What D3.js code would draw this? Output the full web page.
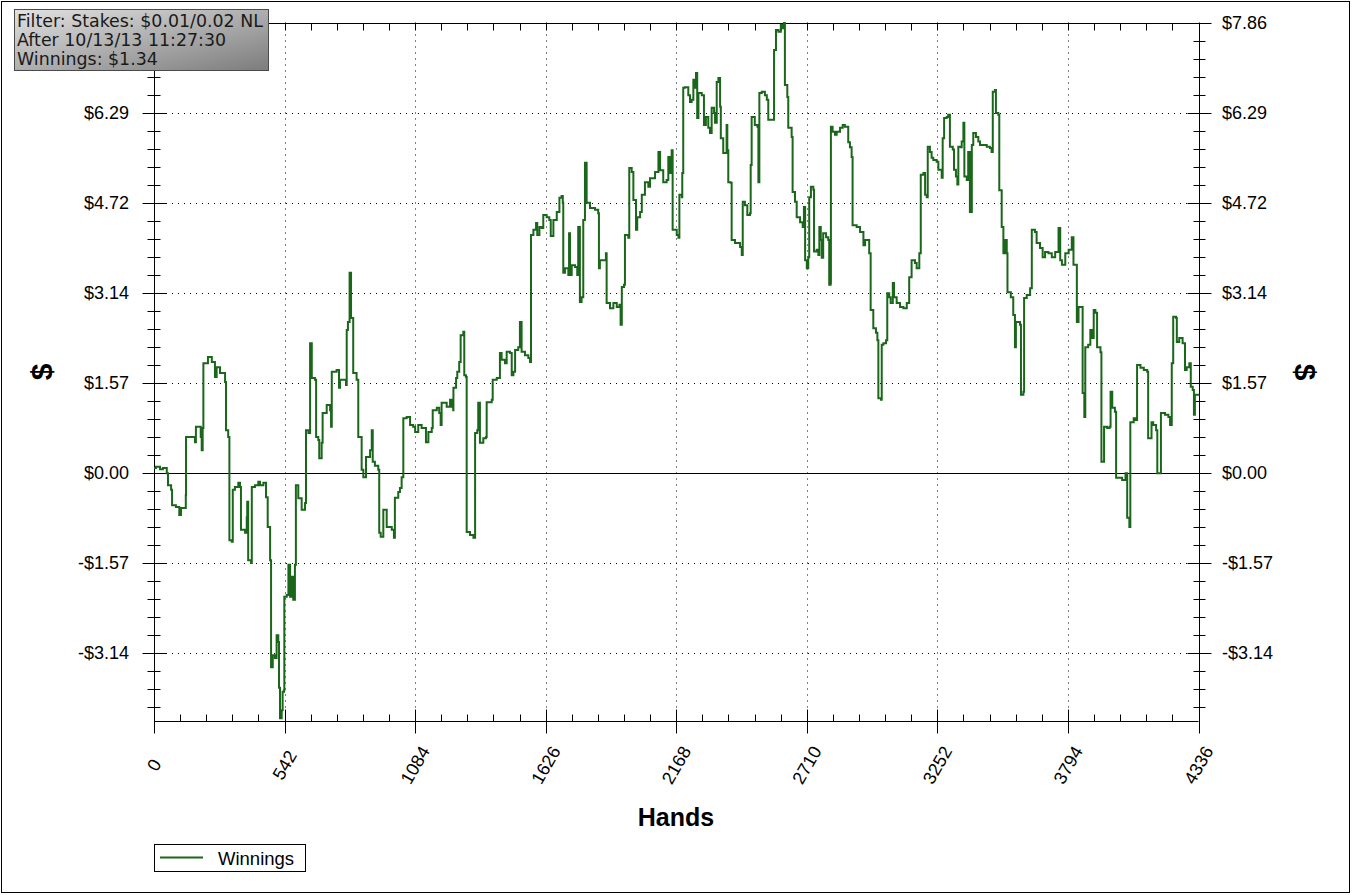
<!DOCTYPE html>
<html>
<head>
<meta charset="utf-8">
<script src="https://cdn.jsdelivr.net/npm/d3@7/dist/d3.min.js"></script>
<style>
  html, body { margin: 0; padding: 0; background: #fff; }
  svg { display: block; }
</style>
</head>
<body>
<svg id="chart" width="1352" height="895"></svg>
<script>
// ---- DATA ----
const xTickValues = [0, 542, 1084, 1626, 2168, 2710, 3252, 3794, 4336];
const xTickLabels = ["0", "542", "1084", "1626", "2168", "2710", "3252", "3794", "4336"];
const yTickValues = [7.86, 6.288, 4.716, 3.144, 1.572, 0, -1.572, -3.144];
const yTickLabels = ["$7.86", "$6.29", "$4.72", "$3.14", "$1.57", "$0.00", "-$1.57", "-$3.14"];
const yDomain = [-4.33, 7.86];
const xDomain = [0, 4336];
const filterLines = ["Filter: Stakes: $0.01/0.02 NL", "After 10/13/13 11:27:30", "Winnings: $1.34"];
const seriesName = "Winnings";

const hands = [
0,8,25,37,53,58,71,75,91,105,112,125,132,133,170,174,194,198,202,205,224,240,253,260,274,295,299,308,313,323,327,336,350,357,361,378,385,387,391,403,406,419,433,440,454,465,472,482,486,493,502,509,516,519,523,530,534,540,541,551,558,565,572,578,585,589,599,613,627,631,641,648,655,668,673,682,686,696,700,717,731,735,738,758,768,772,797,800,805,812,818,826,827,841,848,862,869,876,880,897,904,908,917,931,935,941,952,966,987,996,1000,1014,1021,1028,1035,
1049,1063,1076,1084,1097,1111,1129,1139,1153,1157,1174,1184,1190,1194,1215,1229,1236,1242,1243,1254,1259,1267,1273,1284,1288,1295,1298,1312,1326,1333,1342,1346,1353,1367,1378,1381,1402,1406,1423,1436,1443,1457,1464,1478,1485,1492,1499,1512,1519,1526,1540,1554,1561,
1565,1575,1586,1591,1600,1609,1616,1630,1641,1647,1658,1672,1683,1692,1697,1699,1706,1720,1723,1727,1734,1748,1757,1761,1768,1775,1782,1789,1796,1810,1831,1844,1847,1851,1865,1876,1879,1893,1907,1921,1932,1937,1942,1951,1955,1969,1973,1983,1990,2001,2006,2018,2025,2038,2052,2059,
2080,2094,2101,2114,2128,2135,2142,2149,2153,2170,2177,2181,2191,2193,2197,2204,2218,2225,2232,2239,2246,2250,2255,2260,2274,2283,2291,2301,2308,2315,2325,2329,2336,2343,2350,2353,2363,2377,2380,2384,2394,2398,2412,2433,2440,2444,2453,2463,2474,2477,2481,2494,2505,2509,2513,2523,2536,2544,2550,2568,2574,2582,2592,2602,2610,2615,2619,2629,2633,2647,2651,2661,2668,2682,2693,2698,2703,2710,2716,2720,2727,2737,2740,2751,2758,2762,2768,2772,2778,2790,2799,2803,2809,2810,2817,2827,2834,2848,2859,2868,2882,2889,2896,2900,2917,2931,2945,2952,2965,2969,2975,
2986,2997,3003,3007,3018,3021,3028,3039,3044,3052,3058,3067,3072,3083,3097,3111,3125,3135,3145,3159,3166,3177,3183,3194,3201,3208,3212,3221,3228,3235,3249,3256,3270,3274,3280,3291,3297,3304,3316,3321,3329,3335,3339,3349,3353,3360,3364,3374,3380,3387,3395,3401,3412,3422,3429,3443,3457,3470,3477,3482,3491,3495,3505,3509,3519,3526,3533,3540,3543,3557,3567,3574,3578,3595,3599,3609,3612,3623,3637,3644,3657,3664,3678,3689,3699,3713,
3727,3741,3755,3762,3769,3783,3797,3810,3817,3831,
3831,3838,3849,3855,3862,3866,3878,3887,3894,3901,3908,3915,3929,3933,3943,3944,3957,3967,3971,3978,3989,3994,4005,4019,4033,4040,4049,4053,4067,4074,4081,4095,4109,4123,4127,4134,4141,4148,4160,4165,4176,4180,4197,4211,4218,4225,4231,4243,4246,4256,4270,4280,4287,4298,4304,4312,4317,4321,4336
];
const winnings = [
0.08,0.10,0.06,0.08,-0.01,-0.22,-0.30,-0.57,-0.60,-0.74,-0.62,-0.62,-0.39,0.62,0.53,0.80,0.62,0.39,0.78,1.91,2.02,1.93,1.67,1.84,1.74,1.58,0.74,0.62,-1.18,-1.21,-0.30,-0.25,-0.18,-0.25,-1.00,-1.05,-0.78,-0.51,-1.53,-1.58,-0.25,-0.22,-0.16,-0.22,-0.18,-0.43,-0.95,-1.53,-3.40,-3.19,-3.24,-2.84,-2.96,-3.76,-4.29,-4.15,-3.83,-3.80,-2.17,-2.14,-1.61,-2.17,-1.82,-2.22,-1.61,-0.22,-0.45,-0.65,-0.53,0.74,0.69,2.26,1.65,1.62,0.62,0.57,0.25,0.52,1.04,1.18,1.09,0.80,1.76,1.79,1.48,1.62,1.53,2.49,2.63,3.49,2.70,2.70,1.74,1.62,0.62,0.05,-0.08,-0.08,0.27,0.39,0.74,0.19,0.12,0.05,-1.05,-1.12,-0.65,-0.95,-1.00,-1.14,-0.44,-0.34,-0.27,-0.08,0.95,
0.97,0.83,0.80,0.71,0.83,0.78,0.53,0.71,0.78,1.09,1.13,1.04,0.83,1.22,1.15,1.27,1.15,1.09,1.48,1.65,1.76,1.93,2.40,2.46,1.70,1.67,-1.04,-1.09,-1.14,0.69,0.74,1.22,0.52,0.60,0.62,1.23,1.27,1.62,1.65,2.09,1.97,1.91,2.11,2.09,1.70,1.76,2.14,2.19,2.63,2.11,2.05,2.00,1.93,
4.15,4.24,4.36,4.15,4.29,4.27,4.50,4.46,4.41,4.13,4.41,4.55,4.80,4.83,4.71,3.49,3.57,3.45,4.18,3.45,3.62,3.59,3.45,4.29,2.98,3.06,4.41,5.41,4.71,4.62,4.59,4.53,3.57,3.71,3.71,3.83,2.96,2.87,2.96,2.89,2.93,2.58,3.24,3.28,4.15,4.10,5.32,5.25,4.76,4.24,4.46,4.55,4.85,5.07,4.99,5.14,
5.25,5.60,5.28,5.07,5.11,5.51,5.23,5.63,4.24,4.15,4.10,4.85,4.81,5.23,6.72,6.73,6.59,6.47,6.51,6.86,6.72,6.98,6.19,6.63,6.59,6.07,6.21,6.02,5.93,6.37,6.28,6.11,6.82,6.89,6.39,5.84,5.58,6.07,5.63,5.07,5.06,4.06,4.01,3.94,3.80,4.73,4.67,4.50,4.53,5.37,6.21,6.07,6.04,5.07,6.63,6.65,6.59,6.51,6.16,6.16,7.38,7.73,7.70,7.82,7.76,7.85,6.77,6.56,6.02,5.86,4.90,4.73,4.46,4.37,4.29,4.64,3.71,3.57,3.76,4.81,4.99,4.94,3.86,3.89,3.80,4.29,4.06,3.75,4.18,4.11,4.06,3.28,3.31,6.04,5.95,5.90,5.95,6.02,6.07,6.04,5.77,5.68,5.51,4.32,4.29,4.20,3.97,4.06,4.06,3.83,2.84,
2.52,2.44,2.31,1.30,1.27,2.23,2.26,2.31,3.13,3.06,2.96,3.31,3.06,2.96,2.89,2.87,2.96,3.41,3.71,3.66,3.57,3.83,5.20,5.23,4.85,4.81,5.69,5.60,5.50,5.46,5.43,5.29,5.15,5.84,6.19,6.21,6.25,5.69,5.64,5.29,5.17,5.03,5.69,5.68,5.78,6.11,5.17,5.11,5.60,4.55,5.72,5.93,5.86,5.78,5.72,5.72,5.69,5.67,5.60,6.65,6.68,6.28,6.25,4.93,4.29,3.83,4.06,3.83,3.15,3.06,2.75,2.19,2.63,2.58,1.36,1.41,3.05,3.10,3.22,4.24,4.20,4.01,3.92,3.76,3.85,3.83,
3.76,3.85,4.27,3.71,3.63,3.83,3.89,4.11,3.63,3.49,
2.63,2.89,2.89,1.39,0.97,2.19,2.23,2.49,2.35,2.84,2.79,2.19,2.10,0.19,0.19,0.80,0.78,0.80,1.41,1.13,1.06,-0.09,-0.09,-0.13,-0.01,-0.79,-0.95,0.88,0.95,0.92,1.88,1.83,1.79,1.76,0.60,0.60,0.88,0.83,0.74,-0.01,-0.01,1.04,1.01,0.97,0.83,1.91,2.72,2.70,2.28,2.35,2.26,1.79,1.84,1.91,1.50,1.44,1.01,1.36,1.34
];

// ---- LAYOUT ----
const plot = { left: 154, right: 1198.5, top: 22.5, bottom: 720.5 };
const lineColor = "#1a661a";
const svg = d3.select("#chart");

const x = d3.scaleLinear().domain(xDomain).range([plot.left, plot.right]);
const y = d3.scaleLinear().domain(yDomain).range([plot.bottom, plot.top]);

// outer border
svg.append("rect").attr("x", 1.5).attr("y", 1.5).attr("width", 1348).attr("height", 891)
  .attr("fill", "none").attr("stroke", "#000").attr("stroke-width", 1);

const g = svg.append("g");
const px = v => Math.round(v) + 0.5;

// gridlines
const yStep = 7.86 / 5;
const xStep = 542;
g.selectAll(".vgrid").data(xTickValues.slice(1, -1)).enter().append("line")
  .attr("x1", d => px(x(d))).attr("x2", d => px(x(d)))
  .attr("y1", plot.top).attr("y2", plot.bottom)
  .attr("stroke", "#000").attr("stroke-width", 1).attr("stroke-dasharray", "1,5");
g.selectAll(".hgrid").data(yTickValues.filter(v => v !== 0 && v < 7.8)).enter().append("line")
  .attr("x1", plot.left).attr("x2", plot.right)
  .attr("y1", d => px(y(d))).attr("y2", d => px(y(d)))
  .attr("stroke", "#000").attr("stroke-width", 1).attr("stroke-dasharray", "1,5");

// zero line
g.append("line").attr("x1", plot.left).attr("x2", plot.right)
  .attr("y1", px(y(0))).attr("y2", px(y(0)))
  .attr("stroke", "#000").attr("stroke-width", 1);

// frame
g.append("line").attr("x1", px(plot.left)).attr("x2", px(plot.left)).attr("y1", plot.top).attr("y2", plot.bottom).attr("stroke", "#000");
g.append("line").attr("x1", px(plot.right)).attr("x2", px(plot.right)).attr("y1", plot.top).attr("y2", plot.bottom).attr("stroke", "#000");
g.append("line").attr("x1", plot.left).attr("x2", plot.right + 12).attr("y1", px(plot.top)).attr("y2", px(plot.top)).attr("stroke", "#000");
g.append("line").attr("x1", plot.left).attr("x2", plot.right).attr("y1", px(plot.bottom)).attr("y2", px(plot.bottom)).attr("stroke", "#000");

// ticks
const xMinor = d3.range(0, 4336 + 1, xStep / 5);
g.selectAll(".xminb").data(xMinor).enter().append("line")
  .attr("x1", d => px(x(d))).attr("x2", d => px(x(d)))
  .attr("y1", px(plot.bottom) - 7).attr("y2", px(plot.bottom)).attr("stroke", "#000");
g.selectAll(".xmint").data(xMinor).enter().append("line")
  .attr("x1", d => px(x(d))).attr("x2", d => px(x(d)))
  .attr("y1", px(plot.top)).attr("y2", px(plot.top) + 7).attr("stroke", "#000");
g.selectAll(".xmaj").data(xTickValues).enter().append("line")
  .attr("x1", d => px(x(d))).attr("x2", d => px(x(d)))
  .attr("y1", px(plot.bottom) - 12).attr("y2", px(plot.bottom) + 12).attr("stroke", "#000");

const yMinor = d3.range(-13, 26).map(k => k * yStep / 5).filter(v => v >= yDomain[0] && v <= yDomain[1] + 1e-6);
g.selectAll(".yminl").data(yMinor).enter().append("line")
  .attr("x1", px(plot.left) - 7).attr("x2", px(plot.left) + 6)
  .attr("y1", d => px(y(d))).attr("y2", d => px(y(d))).attr("stroke", "#000");
g.selectAll(".yminr").data(yMinor).enter().append("line")
  .attr("x1", px(plot.right) - 6).attr("x2", px(plot.right) + 6)
  .attr("y1", d => px(y(d))).attr("y2", d => px(y(d))).attr("stroke", "#000");
g.selectAll(".ymajl").data(yTickValues).enter().append("line")
  .attr("x1", px(plot.left) - 12).attr("x2", px(plot.left) + 12)
  .attr("y1", d => px(y(d))).attr("y2", d => px(y(d))).attr("stroke", "#000");
g.selectAll(".ymajr").data(yTickValues).enter().append("line")
  .attr("x1", px(plot.right) - 12).attr("x2", px(plot.right) + 12)
  .attr("y1", d => px(y(d))).attr("y2", d => px(y(d))).attr("stroke", "#000");

// series line (stepped, like a running-total graph)
const data = hands.map((h, i) => [h, winnings[i]]);
g.append("path").datum(data)
  .attr("fill", "none").attr("stroke", lineColor).attr("stroke-width", 2)
  .attr("stroke-linejoin", "miter")
  .attr("d", d3.line().curve(d3.curveStepAfter).x(d => x(d[0])).y(d => y(d[1])));

// tick labels
const font = "'Liberation Sans', Arial, sans-serif";
const leftIdx = yTickValues.map((v, i) => i).filter(i => i > 0); // top-left label sits under the filter box
g.selectAll(".ylabl").data(leftIdx).enter().append("text")
  .attr("x", 129).attr("y", i => y(yTickValues[i])).attr("dy", "0.35em")
  .attr("text-anchor", "end").attr("font-family", font).attr("font-size", 18)
  .text(i => yTickLabels[i]);
g.selectAll(".ylabr").data(yTickValues).enter().append("text")
  .attr("x", 1222).attr("y", d => y(d)).attr("dy", "0.35em")
  .attr("text-anchor", "start").attr("font-family", font).attr("font-size", 18)
  .text((d, i) => yTickLabels[i]);
g.selectAll(".xlab").data(xTickValues).enter().append("text")
  .attr("transform", d => `translate(${x(d)},765) rotate(-60)`)
  .attr("text-anchor", "middle").attr("dy", "0.35em")
  .attr("font-family", font).attr("font-size", 18)
  .text((d, i) => xTickLabels[i]);

// axis titles
svg.append("text").attr("x", 676).attr("y", 826).attr("text-anchor", "middle")
  .attr("font-family", font).attr("font-weight", "bold").attr("font-size", 25).text("Hands");
svg.append("text").attr("transform", "translate(41,372) rotate(-90)").attr("text-anchor", "middle")
  .attr("dy", "0.35em").attr("font-family", font).attr("font-weight", "bold").attr("font-size", 30).text("$");
svg.append("text").attr("transform", "translate(1305,372) rotate(90)").attr("text-anchor", "middle")
  .attr("dy", "0.35em").attr("font-family", font).attr("font-weight", "bold").attr("font-size", 30).text("$");

// filter box
const defs = svg.append("defs");
const grad = defs.append("linearGradient").attr("id", "boxg")
  .attr("x1", "0").attr("y1", "0").attr("x2", "1").attr("y2", "1");
grad.append("stop").attr("offset", "0%").attr("stop-color", "#e2e2e2");
grad.append("stop").attr("offset", "100%").attr("stop-color", "#7c7c7c");
svg.append("rect").attr("x", 14.5).attr("y", 9.5).attr("width", 254).attr("height", 61)
  .attr("fill", "url(#boxg)").attr("stroke", "#4a4a4a").attr("stroke-width", 1);
svg.selectAll(".flt").data(filterLines).enter().append("text")
  .attr("x", 17).attr("y", (d, i) => 27 + i * 19.2)
  .attr("font-family", "'DejaVu Sans', Verdana, sans-serif").attr("font-size", 17.4)
  .attr("fill", "#1a1a1a").text(d => d);

// legend
const leg = svg.append("g");
leg.append("rect").attr("x", 154.5).attr("y", 844.5).attr("width", 151).attr("height", 27)
  .attr("fill", "#fff").attr("stroke", "#000");
leg.append("line").attr("x1", 160).attr("x2", 203).attr("y1", 857.5).attr("y2", 857.5)
  .attr("stroke", lineColor).attr("stroke-width", 2);
leg.append("text").attr("x", 218).attr("y", 865).attr("font-family", font).attr("font-size", 18.5)
  .text(seriesName);
</script>
</body>
</html>
